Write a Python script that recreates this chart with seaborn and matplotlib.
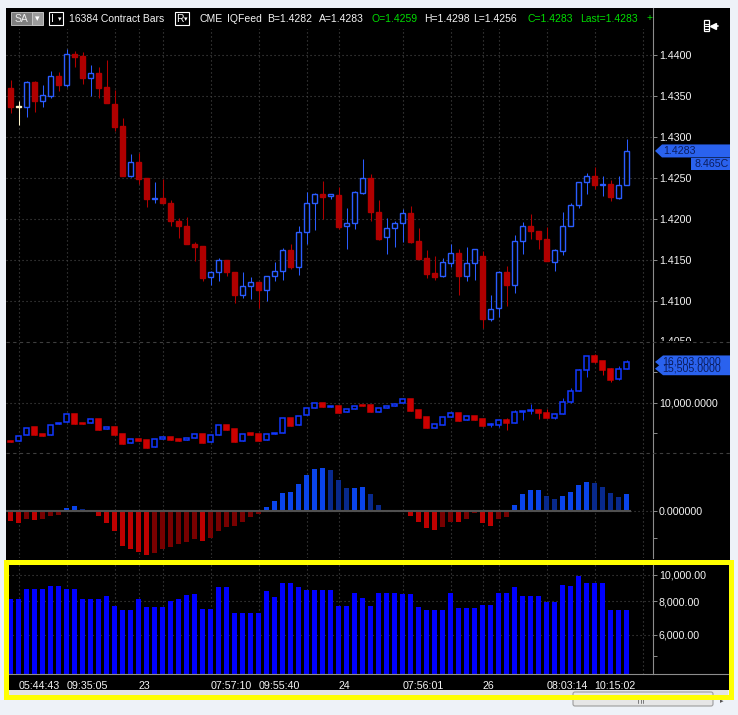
import numpy as np
import pandas as pd
import matplotlib
matplotlib.use("Agg")
import matplotlib.pyplot as plt
import seaborn as sns
from matplotlib.patches import Rectangle, Polygon, FancyBboxPatch
from matplotlib.lines import Line2D
from matplotlib.transforms import IdentityTransform, Bbox
from matplotlib.ticker import NullLocator

# ---------------- data ----------------
price_open = [1.4360, 1.4337, 1.4337, 1.4367, 1.4344, 1.4350, 1.4374, 1.4364, 1.4401, 1.4399,
              1.4372, 1.4378, 1.4361, 1.4340, 1.4313, 1.4252, 1.4270, 1.4250, 1.4224, 1.4226,
              1.4220, 1.4197, 1.4191, 1.4170, 1.4167, 1.4129, 1.4135, 1.4150, 1.4135, 1.4107,
              1.4118, 1.4123, 1.4113, 1.4130, 1.4137, 1.4162, 1.4141, 1.4184, 1.4219, 1.4230,
              1.4228, 1.4229, 1.4191, 1.4195, 1.4232, 1.4250, 1.4208, 1.4178, 1.4189, 1.4195,
              1.4207, 1.4173, 1.4152, 1.4134, 1.4130, 1.4146, 1.4158, 1.4131, 1.4146, 1.4155,
              1.4078, 1.4091, 1.4135, 1.4120, 1.4173, 1.4191, 1.4185, 1.4176, 1.4148, 1.4161,
              1.4191, 1.4217, 1.4245, 1.4252, 1.4242, 1.4243, 1.4226, 1.4241]
price_high = [1.4370, 1.4344, 1.4368, 1.4368, 1.4363, 1.4380, 1.4379, 1.4407, 1.4405, 1.4404,
              1.4388, 1.4385, 1.4394, 1.4357, 1.4323, 1.4279, 1.4280, 1.4250, 1.4245, 1.4249,
              1.4223, 1.4201, 1.4202, 1.4172, 1.4167, 1.4137, 1.4152, 1.4150, 1.4135, 1.4135,
              1.4129, 1.4123, 1.4130, 1.4147, 1.4165, 1.4169, 1.4191, 1.4233, 1.4232, 1.4246,
              1.4231, 1.4239, 1.4213, 1.4234, 1.4273, 1.4255, 1.4223, 1.4201, 1.4198, 1.4212,
              1.4216, 1.4189, 1.4162, 1.4155, 1.4152, 1.4170, 1.4163, 1.4166, 1.4163, 1.4161,
              1.4107, 1.4137, 1.4143, 1.4181, 1.4196, 1.4206, 1.4185, 1.4190, 1.4163, 1.4209,
              1.4220, 1.4245, 1.4256, 1.4263, 1.4252, 1.4247, 1.4252, 1.4298]
price_low = [1.4329, 1.4315, 1.4325, 1.4330, 1.4336, 1.4347, 1.4356, 1.4361, 1.4385, 1.4365,
             1.4350, 1.4348, 1.4341, 1.4307, 1.4252, 1.4251, 1.4243, 1.4215, 1.4219, 1.4219,
             1.4192, 1.4177, 1.4169, 1.4149, 1.4125, 1.4119, 1.4124, 1.4131, 1.4097, 1.4104,
             1.4102, 1.4092, 1.4100, 1.4125, 1.4126, 1.4139, 1.4132, 1.4170, 1.4186, 1.4200,
             1.4225, 1.4188, 1.4163, 1.4188, 1.4231, 1.4198, 1.4175, 1.4157, 1.4166, 1.4172,
             1.4171, 1.4151, 1.4128, 1.4126, 1.4129, 1.4141, 1.4107, 1.4125, 1.4126, 1.4067,
             1.4076, 1.4080, 1.4094, 1.4110, 1.4157, 1.4176, 1.4163, 1.4149, 1.4136, 1.4156,
             1.4191, 1.4213, 1.4230, 1.4236, 1.4228, 1.4222, 1.4225, 1.4241]
price_close = [1.4337, 1.4337, 1.4367, 1.4344, 1.4351, 1.4374, 1.4364, 1.4401, 1.4397, 1.4372,
               1.4378, 1.4360, 1.4341, 1.4312, 1.4252, 1.4270, 1.4249, 1.4224, 1.4226, 1.4219,
               1.4197, 1.4191, 1.4169, 1.4166, 1.4128, 1.4135, 1.4150, 1.4135, 1.4107, 1.4118,
               1.4123, 1.4113, 1.4130, 1.4137, 1.4162, 1.4141, 1.4184, 1.4219, 1.4230, 1.4227,
               1.4230, 1.4190, 1.4195, 1.4233, 1.4250, 1.4208, 1.4176, 1.4189, 1.4195, 1.4207,
               1.4172, 1.4151, 1.4133, 1.4129, 1.4147, 1.4158, 1.4131, 1.4146, 1.4163, 1.4078,
               1.4090, 1.4135, 1.4119, 1.4173, 1.4191, 1.4185, 1.4176, 1.4149, 1.4162, 1.4191,
               1.4217, 1.4245, 1.4252, 1.4241, 1.4243, 1.4227, 1.4241, 1.4283]

osc_open = [3800, 3750, 4720, 6010, 4930, 4720, 6500, 6820, 8120, 6720,
            6660, 7360, 5690, 6010, 4930, 3420, 4120, 3960, 2770, 4070,
            4450, 4120, 3910, 4230, 4930, 3580, 4720, 6390, 5740, 3750,
            5100, 4930, 3910, 4880, 5040, 7530, 6340, 7960, 9090, 9960,
            9360, 9420, 8440, 8930, 9630, 9630, 8550, 9200, 9420, 9900,
            10550, 8820, 7630, 5960, 6450, 7630, 8280, 7150, 7800, 7360,
            6340, 6390, 7200, 6770, 8440, 8710, 8820, 8280, 7580, 8120,
            10060, 11850, 15250, 17570, 16710, 15410, 13790, 15410]
osc_high = [3800, 4660, 5960, 6010, 4930, 6450, 6770, 8120, 8120, 6720,
            7310, 7360, 6010, 6010, 4930, 4070, 4120, 3960, 4070, 4390,
            4450, 4120, 4230, 4880, 4930, 4720, 6340, 6390, 5740, 4990,
            5100, 4930, 4880, 5040, 7470, 7530, 7900, 9090, 9900, 9960,
            9470, 9420, 8930, 9520, 9630, 9630, 9200, 9420, 9850, 10550,
            10550, 8820, 7630, 6500, 7630, 8280, 8280, 7800, 7800, 7360,
            6660, 7150, 7530, 8820, 8710, 9790, 9040, 9040, 8280, 10710,
            12330, 15410, 17520, 17890, 16710, 15630, 15950, 16920]
osc_low = [3690, 3750, 4720, 4770, 4660, 4720, 6500, 6820, 6610, 6610,
           6660, 5640, 5690, 4770, 3370, 3420, 3800, 2720, 2770, 4070,
           4020, 3850, 3910, 4230, 3530, 3580, 4720, 5640, 3690, 3750,
           4830, 3850, 3910, 4880, 5040, 6280, 6340, 7960, 9090, 9360,
           9360, 8390, 8440, 8930, 9520, 8550, 8550, 9200, 9420, 9900,
           8710, 7580, 5960, 5960, 6450, 7630, 7040, 7150, 7260, 6180,
           6120, 6120, 5640, 6660, 7260, 8230, 7360, 7580, 7360, 8120,
           10010, 11850, 14220, 16380, 14490, 13410, 13680, 15410]
osc_close = [3690, 4660, 5960, 4770, 4660, 6450, 6770, 8120, 6610, 6610,
             7310, 5640, 6010, 4770, 3370, 4070, 3800, 2720, 4070, 4390,
             4020, 3850, 4230, 4880, 3530, 4720, 6340, 5640, 3690, 4990,
             4830, 3850, 4880, 5040, 7470, 6280, 7900, 9090, 9900, 9360,
             9470, 8390, 8930, 9520, 9520, 8550, 9200, 9420, 9850, 10550,
             8710, 7580, 5960, 6500, 7630, 8280, 7040, 7800, 7260, 6280,
             6450, 7150, 6770, 8440, 8710, 8820, 8280, 7580, 8120, 10060,
             11900, 15250, 17520, 16650, 15300, 13680, 15410, 16600]

macd_hist = [-0.000370, -0.000444, -0.000296, -0.000321, -0.000309, -0.000173, -0.000148,
             0.000111, 0.000185, 0.000074, 0.0,
             -0.000173, -0.000444, -0.000741, -0.001296, -0.001407, -0.001519, -0.001630,
             -0.001556, -0.001407, -0.001333, -0.001222, -0.001148, -0.001037, -0.001111,
             -0.001000, -0.000741, -0.000593, -0.000556, -0.000407, -0.000222, -0.000111,
             0.000148, 0.000370, 0.000667, 0.000704, 0.001000, 0.001333, 0.001556, 0.001593,
             0.001519, 0.001148, 0.000852, 0.000864, 0.000889, 0.000630, 0.000222, 0.000037,
             0.0, 0.000037,
             -0.000185, -0.000407, -0.000630, -0.000704, -0.000593, -0.000407, -0.000420,
             -0.000296, -0.000074, -0.000444, -0.000556, -0.000296, -0.000222,
             0.000222, 0.000630, 0.000778, 0.000790, 0.000556, 0.000444, 0.000556, 0.000704,
             0.000963, 0.001074, 0.001037, 0.000889, 0.000667, 0.000519, 0.000630]

volume = [8170, 8170, 8900, 8900, 8900, 9100, 9100, 8900, 8900, 8170,
          8170, 8170, 8360, 7680, 7420, 7420, 8170, 7630, 7630, 7630,
          8030, 8170, 8460, 8500, 7500, 7500, 9050, 9050, 7250, 7250,
          7250, 7250, 8750, 8310, 9370, 9370, 9050, 8800, 8800, 8800,
          8800, 7680, 7680, 8600, 8220, 7680, 8600, 8600, 8600, 8500,
          8500, 7630, 7420, 7420, 7420, 8600, 7550, 7550, 7550, 7760,
          7760, 8600, 8600, 9050, 8360, 8360, 8360, 7940, 7940, 9210,
          9100, 9900, 9370, 9370, 9370, 7420, 7420, 7420]

time_tick_bars = [1, 7, 13, 16, 19, 25, 31, 37, 41, 49, 55, 59, 61, 67, 73, 79]
time_tick_labels = ["05:44:43", "09:35:05", "", "23", "", "07:57:10", "09:55:40", "",
                    "24", "07:56:01", "", "26", "", "08:03:14", "10:15:02", ""]

price_ticks = [1.4100, 1.4150, 1.4200, 1.4250, 1.4300, 1.4350, 1.4400]
price_edge_tick = 1.4050
osc_ticks = [5000, 10000, 15000]
osc_tick_labels = ["", "10,000.0000", ""]
hist_ticks = [-0.001, 0.0]
hist_tick_labels = ["", "0.000000"]
vol_ticks = [5000, 6000, 8000, 10000]
vol_tick_labels = ["", "6,000.00", "8,000.00", "10,000.00"]

last_price = 1.4283
last_price_label = "1.4283"
timer_label = "8.465C"
osc_tag_values = [16603.0, 15505.0]
osc_tag_labels = ["16,603.0000", "15,505.0000"]

header_items = [("16384 Contract Bars", 69, "white"), ("CME", 200, "white"),
                ("IQFeed", 227, "white"), ("B=1.4282", 267, "white"),
                ("A=1.4283", 319, "white"), ("O=1.4259", 372, "green"),
                ("H=1.4298", 424, "white"), ("L=1.4256", 473, "white"),
                ("C=1.4283", 527, "green"), ("Last=1.4283", 580, "green"),
                ("+", 647, "green")]

# ---------------- style ----------------
sns.set_theme(style="dark", rc={"axes.facecolor": "black"})
plt.rcParams["font.family"] = ["Liberation Sans", "DejaVu Sans"]
plt.rcParams["axes.unicode_minus"] = False

W, H = 738, 715
FS = 7.7
HFS = 7.45
WHITE = "#f4f4f4"
GREEN = "#00dd00"
GRID = "#4a4a4a"
AXC = "#8c8c8c"
TAG = "#2a62ee"
TAGTXT = "#0b1d5e"
ID = IdentityTransform()

fig = plt.figure(figsize=(W / 100, H / 100), dpi=100, facecolor="#eef2f8")


def rect_px(x0, y0, x1, y1, **kw):
    r = Rectangle((x0, H - y1), x1 - x0, y1 - y0, transform=ID, **kw)
    fig.add_artist(r)
    return r


def line_px(xs, ys, **kw):
    ln = Line2D(xs, [H - y for y in ys], transform=ID, **kw)
    fig.add_artist(ln)
    return ln


def text_px(x, y, s, **kw):
    return fig.text(x / W, 1 - y / H, s, **kw)


def axes_px(x0, y0, x1, y1):
    ax = fig.add_axes([x0 / W, 1 - y1 / H, (x1 - x0) / W, (y1 - y0) / H])
    ax.set_facecolor("black")
    return ax


# black chart surface
rect_px(6, 8, 730, 690, facecolor="black", edgecolor="none", zorder=-5)

ax_p = axes_px(6, 8, 653, 341)
ax_o = axes_px(6, 341, 653, 452)
ax_h = axes_px(6, 452, 653, 558)
ax_v = axes_px(8, 564, 653, 674)

BAR0, STEP = 10.5, 8.0  # pixel centre of first bar and bar spacing


def xlim_for(x0, x1):
    return ((x0 - BAR0) / STEP, (x1 - BAR0) / STEP)


def candles(ax, o, h, l, c, up, dn, eq, width, eps, lw):
    o, h, l, c = map(np.asarray, (o, h, l, c))
    idx = np.arange(len(o))
    edge = np.where(c > o, up, np.where(c < o, dn, eq))
    face = np.where(c > o, "black", edge)
    ax.vlines(idx, l, h, colors=edge, linewidth=0.75, zorder=3)
    bottom = np.minimum(o, c)
    height = np.maximum(np.abs(c - o), eps)
    ax.bar(idx, height, width, bottom=bottom, color=face, edgecolor=edge,
           linewidth=lw, zorder=4)


def style(ax, x0):
    for s in ax.spines.values():
        s.set_visible(False)
    ax.spines["right"].set_visible(True)
    ax.spines["right"].set_color(AXC)
    ax.spines["right"].set_linewidth(0.8)
    ax.yaxis.tick_right()
    ax.tick_params(axis="y", which="major", direction="out", length=2.9, width=0.7,
                   colors=AXC, labelcolor=WHITE, labelsize=FS, pad=1.4)
    ax.yaxis.set_minor_locator(NullLocator())
    ax.set_xticks(time_tick_bars)
    ax.tick_params(axis="x", length=0, labelbottom=False)
    ax.xaxis.grid(True, color=GRID, linestyle=(0, (1, 2.6)), linewidth=0.8)
    ax.yaxis.grid(False)
    ax.set_axisbelow(True)
    ax.set_xlim(*xlim_for(x0, 653))
    ax.set_xlabel("")
    ax.set_ylabel("")


# ---- price panel ----
candles(ax_p, price_open, price_high, price_low, price_close,
        "#2a5cff", "#b00000", "#fff6cc", 0.64, 0.0001, 1.0)
style(ax_p, 6)
ax_p.set_ylim(1.405122, 1.445732)
ax_p.set_yticks(price_ticks, labels=[f"{v:.4f}" for v in price_ticks])
ax_p.yaxis.grid(True, color=GRID, linestyle=(0, (1, 2.6)), linewidth=0.8)

# ---- oscillator candles ----
candles(ax_o, osc_open, osc_high, osc_low, osc_close,
        "#1238ff", "#cc0000", "#fff6cc", 0.64, 120, 1.1)
style(ax_o, 6)
ax_o.set_ylim(2000, 20000)
ax_o.set_yticks(osc_ticks, labels=osc_tick_labels)
ax_o.axhline(10000, color=GRID, linestyle=(0, (1, 2.6)), linewidth=0.8, zorder=0.5)

# ---- histogram ----
hist = np.asarray(macd_hist)
prev = np.concatenate([[0.0], hist[:-1]])
phase = np.where(hist >= 0, np.where(hist >= prev, "up+", "up-"),
                 np.where(hist <= prev, "dn+", "dn-"))
hdf = pd.DataFrame({"bar": np.arange(len(hist)), "hist": hist, "phase": phase})
pal = {"up+": "#0a44ea", "up-": "#08298c", "dn+": "#be0000", "dn-": "#780000"}
sns.barplot(data=hdf, x="bar", y="hist", hue="phase", palette=pal, native_scale=True,
            dodge=False, width=0.66, saturation=1, errorbar=None, legend=False,
            linewidth=0, ax=ax_h)
style(ax_h, 6)
ax_h.set_ylim(-0.001741, 0.002185)
ax_h.set_yticks(hist_ticks, labels=hist_tick_labels)
ax_h.axhline(0, color=GRID, linestyle=(0, (1, 2.6)), linewidth=0.8, zorder=0.5)
ax_h.hlines(0, -0.6, len(hist) - 0.4, color="#505050", linewidth=1.5, zorder=5)

# ---- volume ----
vdf = pd.DataFrame({"bar": np.arange(len(volume)), "volume": volume})
sns.barplot(data=vdf, x="bar", y="volume", color="#0000ff", native_scale=True,
            width=0.66, saturation=1, errorbar=None, linewidth=0, ax=ax_v)
ax_v.set_yscale("log")
style(ax_v, 8)
ax_v.set_ylim(4300, 10980)
ax_v.yaxis.set_minor_locator(NullLocator())
ax_v.set_yticks(vol_ticks, labels=vol_tick_labels)
ax_v.yaxis.set_minor_locator(NullLocator())
for v in vol_ticks[1:]:
    ax_v.axhline(v, color=GRID, linestyle=(0, (1, 2.6)), linewidth=0.8, zorder=0.5)
ax_v.spines["bottom"].set_visible(True)
ax_v.spines["bottom"].set_color(AXC)
ax_v.spines["bottom"].set_linewidth(0.8)
ax_v.set_xticks(time_tick_bars, labels=time_tick_labels)
ax_v.tick_params(axis="x", direction="out", length=2.2, width=0.7, colors=AXC,
                 labelcolor=WHITE, labelsize=FS, pad=2.5, labelbottom=True)
for tl in ax_v.get_xticklabels():
    tl.set_ha("left")
line_px([653, 728], [674, 674], color=AXC, linewidth=0.8, zorder=2)

# ---- panel separators ----
for ysep in (341.5, 452.5):
    line_px([6, 730], [ysep, ysep], color="#3e3e3e", linewidth=0.8,
            linestyle=(0, (3, 3)), zorder=2)

# partially hidden 1.4050 label
ye = ax_p.transData.transform((0, price_edge_tick))[1]
t_edge = fig.text(659 / W, ye / H, f"{price_edge_tick:.4f}", color=WHITE, fontsize=FS,
                  va="center", ha="left", zorder=3)
t_edge.set_clip_box(Bbox.from_extents(654, H - 341.3, 731, H - 320))
t_edge.set_clip_on(True)

# ---- header ----
rect_px(6, 8, 652.5, 28.5, facecolor="black", edgecolor="none", zorder=1)
rect_px(11, 12, 32, 24.5, facecolor="#7f7f7f", edgecolor="#b4b4b4", linewidth=0.7, zorder=2)
rect_px(32, 12, 43, 24.5, facecolor="#9c9c9c", edgecolor="#c4c4c4", linewidth=0.7, zorder=2)
text_px(21.5, 18.5, "SA", color="#ececec", fontsize=HFS, ha="center", va="center", zorder=3)
text_px(37.5, 18.5, "▾", color="white", fontsize=6.5, ha="center", va="center",
        family=["DejaVu Sans"], zorder=3)
for bx, letter in ((49, "I"), (175, "R")):
    rect_px(bx, 12, bx + 14, 25, facecolor="black", edgecolor="white", linewidth=0.8, zorder=2)
    text_px(bx + 1.5, 18.5, letter, color="white", fontsize=HFS, ha="left", va="center",
            zorder=3)
    text_px(bx + 10.8, 18.8, "▾", color="white", fontsize=5, ha="center", va="center",
            family=["DejaVu Sans"], zorder=3)
for s, x, c in header_items:
    t = text_px(x, 18.5, s, color=GREEN if c == "green" else WHITE, fontsize=HFS,
                ha="left", va="center", zorder=3)
    t.set_clip_box(Bbox.from_extents(0, 0, 652.5, H))
    t.set_clip_on(True)

# icon at top right
rect_px(704, 20, 709, 31, facecolor="none", edgecolor="white", linewidth=0.9, zorder=3)
for yy in (23.5, 26, 28.5):
    line_px([704.5, 708.5], [yy, yy], color="white", linewidth=0.8, zorder=3)
line_px([712, 718], [26, 26], color="white", linewidth=1.2, zorder=3)
line_px([712.5], [26], marker="<", markersize=4, color="white", zorder=3)

# ---- price tags ----
yp = ax_p.transData.transform((0, last_price))[1]
fig.add_artist(Polygon([(655, yp), (662, yp + 6.5), (730, yp + 6.5), (730, yp - 6.5),
                        (662, yp - 6.5)], closed=True, transform=ID, facecolor=TAG,
                       edgecolor="none", zorder=2))
fig.text(663 / W, yp / H, last_price_label, color=TAGTXT, fontsize=FS, va="center",
         ha="left", zorder=3)
fig.add_artist(Rectangle((691, yp - 19.5), 39, 12, transform=ID, facecolor=TAG,
                         edgecolor="none", zorder=2))
fig.text(728.5 / W, (yp - 13.5) / H, timer_label, color=TAGTXT, fontsize=FS, va="center",
         ha="right", zorder=3)

for val, lab in zip(osc_tag_values, osc_tag_labels):
    yo = ax_o.transData.transform((0, val))[1]
    fig.add_artist(Polygon([(655, yo), (663, yo + 6.5), (730, yo + 6.5), (730, yo - 6.5),
                            (663, yo - 6.5)], closed=True, transform=ID, facecolor=TAG,
                           edgecolor="none", zorder=2))
    fig.text(662 / W, yo / H, lab, color=TAGTXT, fontsize=FS, va="center", ha="left", zorder=2)

# ---- bottom strip, scrollbar, highlight frame ----
rect_px(8, 690, 728, 696, facecolor="#e4e4e4", edgecolor="none", zorder=1)
sb = FancyBboxPatch((573, H - 706), 140, 14, boxstyle="round,pad=0,rounding_size=2",
                    transform=ID, facecolor="#e6e6e6", edgecolor="#9c9c9c", linewidth=0.8,
                    zorder=1.1)
fig.add_artist(sb)
for gx in (638, 640.5, 643):
    line_px([gx, gx], [698, 703], color="#7a7a7a", linewidth=0.7, zorder=1.2)
text_px(722, 701, "▸", color="#555555", fontsize=5, ha="center", va="center",
        family=["DejaVu Sans"], zorder=1.2)
rect_px(5.5, 561.5, 730.5, 696.5, facecolor="none", edgecolor="#ffff00", linewidth=3.6,
        zorder=4)

fig.savefig("out.png", dpi=100, facecolor=fig.get_facecolor())
